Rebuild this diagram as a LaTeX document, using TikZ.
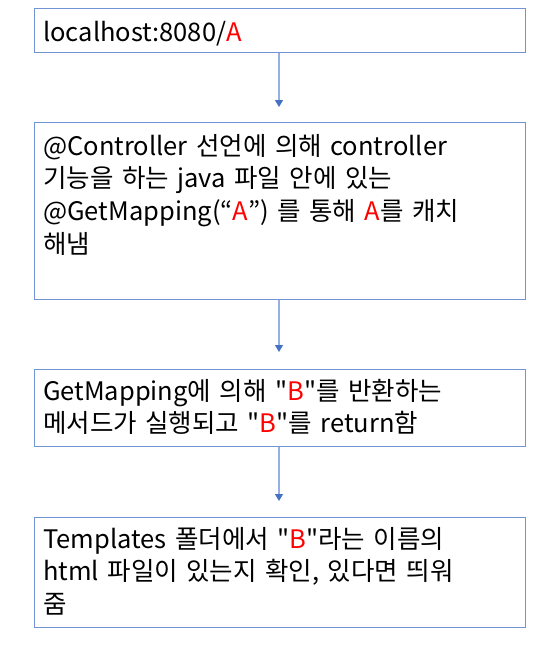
\documentclass[tikz,border=0pt]{standalone}
\usepackage{fontspec}
\setmainfont{Noto Sans CJK KR}[Ligatures=TeXOff]
\usetikzlibrary{arrows.meta}
\definecolor{boxblue}{RGB}{114,147,212}
\definecolor{linkblue}{RGB}{150,176,226}
\definecolor{tipblue}{RGB}{68,114,196}
\definecolor{hl}{RGB}{255,0,0}
\tikzset{
  flowbox/.style={draw=boxblue, line width=1.3pt, minimum width=491pt, inner sep=0pt, anchor=north west},
  boxtext/.style={anchor=base west, inner sep=0pt, text width=490pt, align=left, font=\fontsize{25.5}{32.8}\selectfont},
  link/.style={draw=linkblue, line width=1.1pt, -{Triangle[length=7pt,width=8pt,fill=tipblue,color=tipblue]}}
}
\begin{document}
\begin{tikzpicture}[x=1pt,y=-1pt]
\useasboundingbox (0,0) rectangle (558,662);
\node[flowbox, minimum height=44pt] (b1) at (33.5,8) {};
\node[flowbox, minimum height=177pt] (b2) at (33.5,122) {};
\node[flowbox, minimum height=77pt] (b3) at (33.5,369) {};
\node[flowbox, minimum height=110pt] (b4) at (33.5,517) {};
\node[boxtext] (t1) at (43,41) {localhost:8080/\textcolor{hl}{A}};
\node[boxtext] (t2) at (43,155) {@Controller 선언에 의해 controller\\기능을 하는 java 파일 안에 있는\\@GetMapping(“\textcolor{hl}{A}”) 를 통해 \textcolor{hl}{A}를 캐치\\해냄};
\node[boxtext] (t3) at (43,400) {GetMapping에 의해 "\textcolor{hl}{B}"를 반환하는\\메서드가 실행되고 "\textcolor{hl}{B}"를 return함};
\node[boxtext] (t4) at (43,548) {Templates 폴더에서 "\textcolor{hl}{B}"라는 이름의\\html 파일이 있는지 확인, 있다면 띄워\\줌};
\coordinate (e1) at (279,107);
\coordinate (e2) at (279,352);
\coordinate (e3) at (279,501);
\draw[link] (b1.south -| e1) -- (e1);
\draw[link] (b2.south -| e2) -- (e2);
\draw[link] (b3.south -| e3) -- (e3);
\end{tikzpicture}
\end{document}
